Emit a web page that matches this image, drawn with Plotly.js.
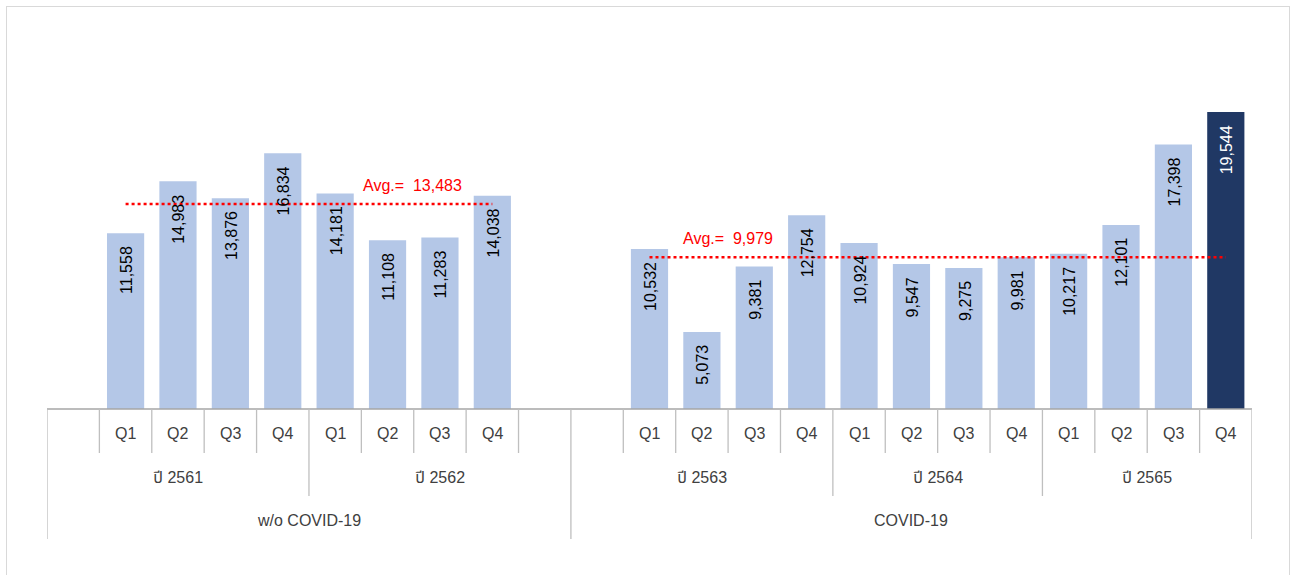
<!DOCTYPE html>
<html>
<head>
<meta charset="utf-8">
<script src="https://cdn.plot.ly/plotly-3.0.1.min.js"></script>
<style>
  html, body { margin: 0; padding: 0; background: #ffffff; }
  #frame { position: absolute; left: 6px; top: 6px; width: 1284px; height: 620px; border: 1.5px solid #d9d9d9; box-sizing: border-box; }
  #chart { position: absolute; left: 0; top: 0; width: 1292px; height: 575px; }
</style>
</head>
<body>
<div id="frame"></div>
<div id="chart"></div>
<script>
// ---- data ----
var quarters = ['', 'Q1', 'Q2', 'Q3', 'Q4', 'Q1', 'Q2', 'Q3', 'Q4', '', '', 'Q1', 'Q2', 'Q3', 'Q4', 'Q1', 'Q2', 'Q3', 'Q4', 'Q1', 'Q2', 'Q3', 'Q4'];
var years = ['ปี 2561', 'ปี 2561', 'ปี 2561', 'ปี 2561', 'ปี 2561',
             'ปี 2562', 'ปี 2562', 'ปี 2562', 'ปี 2562', 'ปี 2562',
             'ปี 2563', 'ปี 2563', 'ปี 2563', 'ปี 2563', 'ปี 2563',
             'ปี 2564', 'ปี 2564', 'ปี 2564', 'ปี 2564',
             'ปี 2565', 'ปี 2565', 'ปี 2565', 'ปี 2565'];
var periods = ['w/o COVID-19', 'w/o COVID-19', 'w/o COVID-19', 'w/o COVID-19', 'w/o COVID-19',
               'w/o COVID-19', 'w/o COVID-19', 'w/o COVID-19', 'w/o COVID-19', 'w/o COVID-19',
               'COVID-19', 'COVID-19', 'COVID-19', 'COVID-19', 'COVID-19', 'COVID-19', 'COVID-19',
               'COVID-19', 'COVID-19', 'COVID-19', 'COVID-19', 'COVID-19', 'COVID-19'];
var values = [null, 11558, 14983, 13876, 16834, 14181, 11108, 11283, 14038, null, null,
              10532, 5073, 9381, 12754, 10924, 9547, 9275, 9981, 10217, 12101, 17398, 19544];
var periodNames = ['w/o COVID-19', 'COVID-19'];
var avgValues = [13483, 9979];

// ---- layout constants ----
var FONT = 'Liberation Sans, Arial, "Noto Sans Thai", "Noto Sans", sans-serif';
var BAR = '#b4c7e7', BAR_HI = '#203864';
var n = values.length;
var xs = values.map(function (v, i) { return i; });
var lastBar = -1;
values.forEach(function (v, i) { if (v !== null) lastBar = i; });

var plotTop = 20, plotBottom = 545, baseline = 409, pxPerUnit = 297 / 19544;
var yMax = (baseline - plotTop) / pxPerUnit;
var yMin = -(plotBottom - baseline) / pxPerUnit;

function fmt(v) { return v.toLocaleString('en-US'); }

var traces = [];
traces.push({
  type: 'bar', x: xs, y: values,
  marker: { color: values.map(function (v, i) { return i === lastBar ? BAR_HI : BAR; }), line: { width: 0 } },
  hoverinfo: 'skip', showlegend: false
});

var annotations = [];
var shapes = [];

// value labels
values.forEach(function (v, i) {
  if (v === null) return;
  annotations.push({
    x: i, y: v, xref: 'x', yref: 'y', text: fmt(v), showarrow: false,
    textangle: -90, yanchor: 'top', xanchor: 'center', yshift: -11, xshift: 1,
    font: { family: FONT, size: 16, color: i === lastBar ? '#ffffff' : '#000000' }
  });
});

// average lines
var avgLabelX = [5.5, 11.6];
periodNames.forEach(function (p, g) {
  var idx = [];
  values.forEach(function (v, i) { if (v !== null && periods[i] === p) idx.push(i); });
  traces.push({
    type: 'scatter', mode: 'lines', x: [idx[0], idx[idx.length - 1]], y: [avgValues[g], avgValues[g]],
    line: { color: '#ff0000', width: 2.5, dash: 'dot' }, hoverinfo: 'skip', showlegend: false
  });
  annotations.push({
    x: avgLabelX[g], y: avgValues[g], xref: 'x', yref: 'y', text: 'Avg.=  ' + fmt(avgValues[g]),
    showarrow: false, xanchor: 'left', yanchor: 'middle', yshift: 19,
    font: { family: FONT, size: 16, color: '#ff0000' }
  });
});

// category axis: baseline
shapes.push({ type: 'line', xref: 'x', yref: 'y', x0: -0.5, x1: n - 0.5, y0: 0, y1: 0,
  line: { color: '#a6a6a6', width: 1.3 }, layer: 'above' });

// boundaries
for (var k = 0; k <= n; k++) {
  var depth;
  if (k === 0 || k === n || periods[k] !== periods[k - 1]) depth = 130;
  else if (years[k] !== years[k - 1]) depth = 87;
  else depth = 44;
  shapes.push({ type: 'line', xref: 'x', yref: 'y', ysizemode: 'pixel', yanchor: 0,
    x0: k - 0.5, x1: k - 0.5, y0: 0, y1: -depth,
    line: { color: '#bfbfbf', width: 1.3 } });
}

// quarter labels
quarters.forEach(function (q, i) {
  if (!q) return;
  annotations.push({ x: i, y: 0, xref: 'x', yref: 'y', text: q, showarrow: false,
    yanchor: 'middle', yshift: -24, font: { family: FONT, size: 16, color: '#404040' } });
});

// spanning labels (years, periods)
function spans(arr) {
  var out = [], s = 0;
  for (var i = 1; i <= arr.length; i++) {
    if (i === arr.length || arr[i] !== arr[s]) { out.push({ label: arr[s], a: s, b: i - 1 }); s = i; }
  }
  return out;
}
spans(years).forEach(function (sp) {
  annotations.push({ x: (sp.a + sp.b) / 2, y: 0, xref: 'x', yref: 'y', text: sp.label, showarrow: false,
    yanchor: 'middle', yshift: -68, font: { family: FONT, size: 16, color: '#404040' } });
});
spans(periods).forEach(function (sp) {
  annotations.push({ x: (sp.a + sp.b) / 2, y: 0, xref: 'x', yref: 'y', text: sp.label, showarrow: false,
    yanchor: 'middle', yshift: -111, font: { family: FONT, size: 16, color: '#404040' } });
});

var layout = {
  width: 1292, height: 575,
  margin: { l: 47, r: 40, t: plotTop, b: 575 - plotBottom, pad: 0 },
  paper_bgcolor: 'rgba(0,0,0,0)', plot_bgcolor: 'rgba(0,0,0,0)',
  bargap: 0.29, showlegend: false,
  font: { family: FONT, size: 16, color: '#404040' },
  xaxis: { range: [-0.5, n - 0.5], visible: false, fixedrange: true },
  yaxis: { range: [yMin, yMax], visible: false, fixedrange: true },
  shapes: shapes, annotations: annotations
};

Plotly.newPlot('chart', traces, layout, { displayModeBar: false, staticPlot: true });
</script>
</body>
</html>
